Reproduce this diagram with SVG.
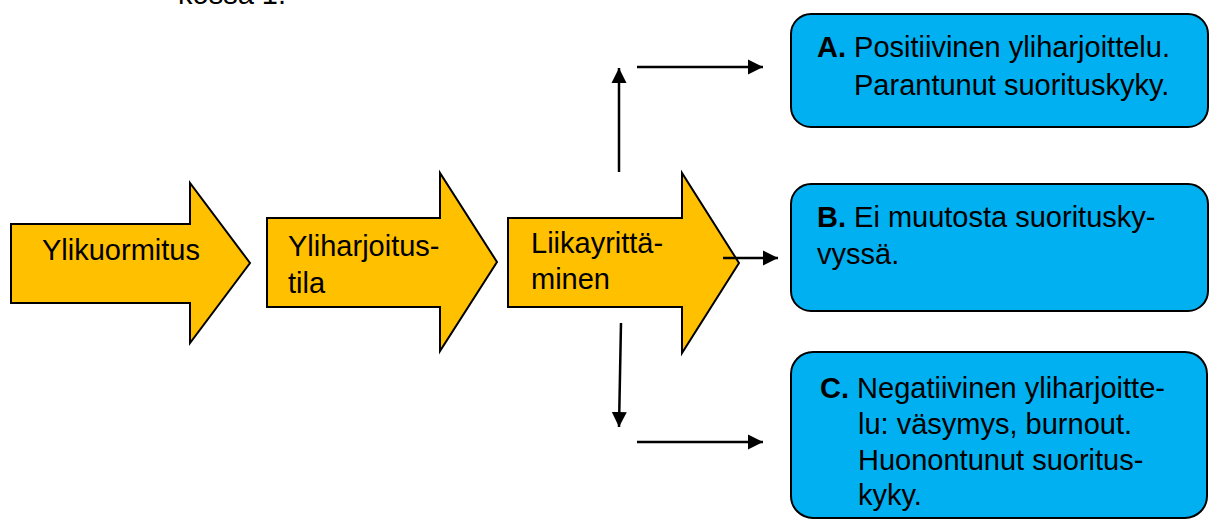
<svg xmlns="http://www.w3.org/2000/svg" width="1209" height="520" viewBox="0 0 1209 520">
<style>
text{font-family:"Liberation Sans",Arial,sans-serif;font-size:29px;fill:#000}
.b{font-weight:bold}
.arr{fill:#FFC000;stroke:#000;stroke-width:2;stroke-linejoin:miter}
.box{fill:#00B0F0;stroke:#000;stroke-width:2}
.con{stroke:#000;stroke-width:2.5;fill:none;marker-end:url(#ah)}
</style>
<defs>
<marker id="ah" markerUnits="userSpaceOnUse" markerWidth="16" markerHeight="16" viewBox="0 0 16 16" refX="15" refY="8" orient="auto">
<path d="M0,0.5 L15,8 L0,15.5 Z" fill="#000"/>
</marker>
</defs>
<text x="178" y="4">kossa 1.</text>
<g id="n1">
<polygon class="arr" points="11,224 190,224 190,183 250,263 190,343 190,303 11,303"/>
<text x="42" y="260">Ylikuormitus</text>
</g>
<g id="n2">
<polygon class="arr" points="267,218 440,218 440,173 497,262 440,351 440,307 267,307"/>
<text x="288" y="256">Yliharjoitus-</text>
<text x="288" y="293">tila</text>
</g>
<g id="n3">
<polygon class="arr" points="508,218 682,218 682,173 739,263 682,353 682,307 508,307"/>
<text x="531" y="253">Liikayrittä-</text>
<text x="531" y="289">minen</text>
</g>
<g id="nA">
<rect class="box" x="791" y="14" width="417" height="113" rx="20"/>
<text x="817" y="57"><tspan class="b">A.</tspan> Positiivinen yliharjoittelu.</text>
<text x="854" y="95">Parantunut suorituskyky.</text>
</g>
<g id="nB">
<rect class="box" x="791" y="184" width="417" height="127" rx="20"/>
<text x="817" y="227"><tspan class="b">B.</tspan> Ei muutosta suoritusky-</text>
<text x="817" y="264">vyssä.</text>
</g>
<g id="nC">
<rect class="box" x="791" y="352" width="416" height="166" rx="22"/>
<text x="820" y="398"><tspan class="b">C.</tspan> Negatiivinen yliharjoitte-</text>
<text x="858" y="434">lu: väsymys, burnout.</text>
<text x="858" y="470">Huonontunut suoritus-</text>
<text x="858" y="505">kyky.</text>
</g>
<g id="connectors">
<line class="con" x1="619" y1="172" x2="619" y2="68"/>
<line class="con" x1="637" y1="67" x2="763" y2="67"/>
<line class="con" x1="723" y1="258" x2="778" y2="258"/>
<line class="con" x1="621" y1="323" x2="619" y2="427"/>
<line class="con" x1="637" y1="442" x2="763" y2="442"/>
</g>
</svg>
